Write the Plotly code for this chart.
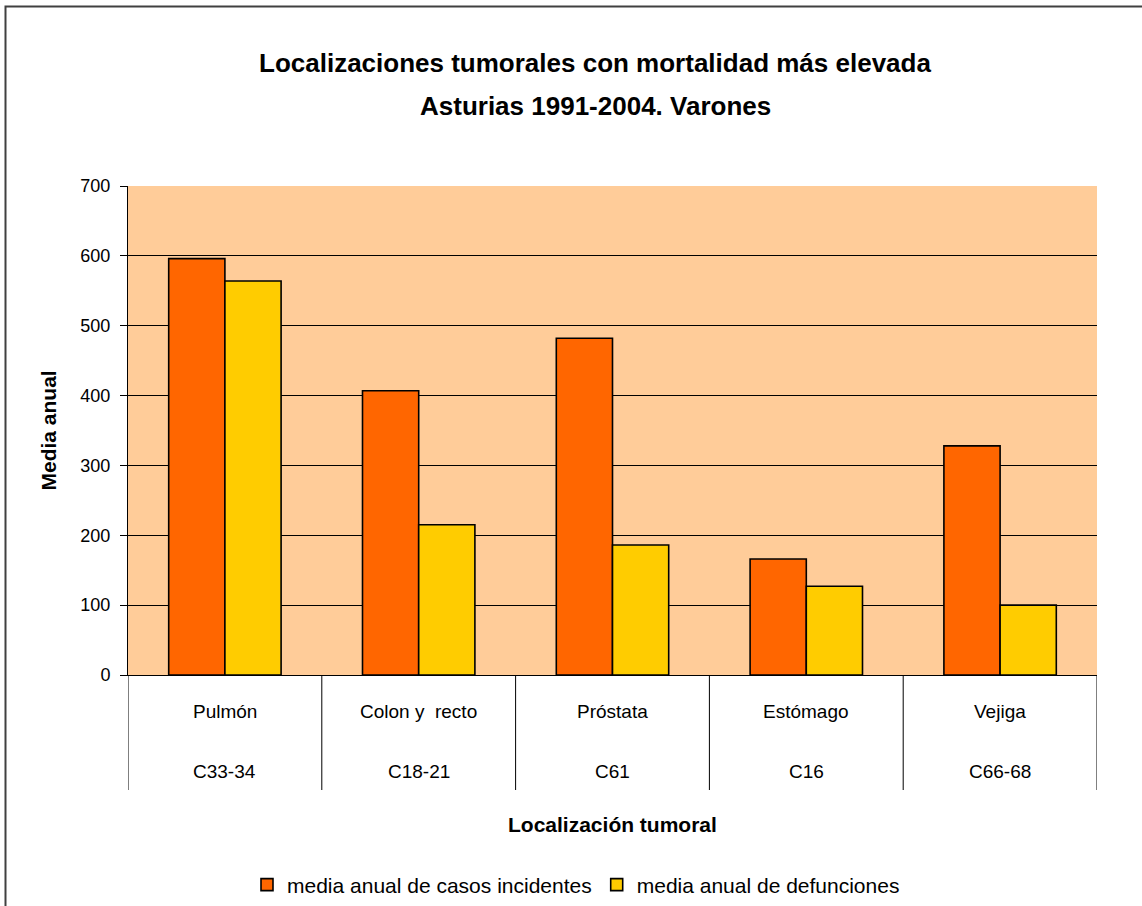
import plotly.graph_objects as go

# Tumour sites (name and ICD-10 code) and yearly averages, Asturias 1991-2004, men
sites = ["Pulmón", "Colon y  recto", "Próstata", "Estómago", "Vejiga"]
codes = ["C33-34", "C18-21", "C61", "C16", "C66-68"]
incident_cases = [596, 407, 482, 166, 328]
deaths = [564, 215, 186, 127, 100]
y_ticks = [0, 100, 200, 300, 400, 500, 600, 700]

FONT = "Liberation Sans, Arial, sans-serif"
W, H = 1142, 906
L, R, T, B = 128, 45, 186, 231
PW, PH = W - L - R, H - T - B


def px_x(p):
    return (p - L) / PW


def px_y(p):
    return (H - B - p) / PH


fig = go.Figure()
fig.add_trace(go.Bar(
    x=list(range(len(sites))), y=incident_cases,
    name="media anual de casos incidentes",
    marker=dict(color="#FF6600", line=dict(color="black", width=1.6)),
))
fig.add_trace(go.Bar(
    x=list(range(len(sites))), y=deaths,
    name="media anual de defunciones",
    marker=dict(color="#FFCC00", line=dict(color="black", width=1.6)),
))

annotations = []
shapes = []
# two-row category labels under the axis
for i, (s, c) in enumerate(zip(sites, codes)):
    annotations.append(dict(x=i, y=px_y(711), xref="x", yref="paper", text=s,
                            showarrow=False, font=dict(size=19, color="black"),
                            yanchor="middle"))
    annotations.append(dict(x=i, y=px_y(771), xref="x", yref="paper", text=c,
                            showarrow=False, font=dict(size=19, color="black"),
                            yanchor="middle"))
# dividers between categories
for k in range(len(sites) + 1):
    shapes.append(dict(type="line", xref="x", yref="paper",
                       x0=k - 0.5, x1=k - 0.5, y0=0, y1=px_y(790),
                       line=dict(color="black", width=1)))

# titles
annotations.append(dict(x=px_x(595), y=px_y(63), xref="paper", yref="paper",
                        text="<b>Localizaciones tumorales con mortalidad más elevada</b>",
                        showarrow=False, font=dict(size=26, color="black"), yanchor="middle"))
annotations.append(dict(x=px_x(595), y=px_y(106), xref="paper", yref="paper",
                        text="<b>Asturias 1991-2004. Varones</b>",
                        showarrow=False, font=dict(size=26, color="black"), yanchor="middle"))
annotations.append(dict(x=px_x(612), y=px_y(824), xref="paper", yref="paper",
                        text="<b>Localización tumoral</b>",
                        showarrow=False, font=dict(size=21, color="black"), yanchor="middle"))
annotations.append(dict(x=px_x(48), y=0.5, xref="paper", yref="paper",
                        text="<b>Media anual</b>", textangle=-90,
                        showarrow=False, font=dict(size=21, color="black"),
                        xanchor="center", yanchor="middle"))

# outer chart frame
shapes.append(dict(type="rect", xref="paper", yref="paper",
                   x0=px_x(5.5), x1=px_x(1160), y0=px_y(6.5), y1=px_y(930),
                   line=dict(color="#404040", width=2), layer="below"))

fig.update_layout(
    width=W, height=H,
    margin=dict(l=L, r=R, t=T, b=B, autoexpand=False),
    paper_bgcolor="white",
    plot_bgcolor="#FFCC99",
    font=dict(family=FONT, size=19, color="black"),
    barmode="group",
    bargap=0.42,
    bargroupgap=0,
    showlegend=True,
    legend=dict(orientation="h", x=px_x(576), xanchor="center",
                y=px_y(885), yanchor="middle",
                font=dict(size=21), itemwidth=30,
                bgcolor="rgba(0,0,0,0)"),
    xaxis=dict(range=[-0.5, len(sites) - 0.5], showticklabels=False,
               showgrid=False, zeroline=False, showline=True,
               linecolor="black", linewidth=1, ticks=""),
    yaxis=dict(range=[0, 700], tickvals=y_ticks, showgrid=True,
               gridcolor="black", gridwidth=1, zeroline=False,
               showline=True, linecolor="black", linewidth=1,
               ticks="outside", ticklen=7, tickcolor="black",
               ticklabelstandoff=6, tickfont=dict(size=18)),
    annotations=annotations,
    shapes=shapes,
)

fig.write_html("out.html")
